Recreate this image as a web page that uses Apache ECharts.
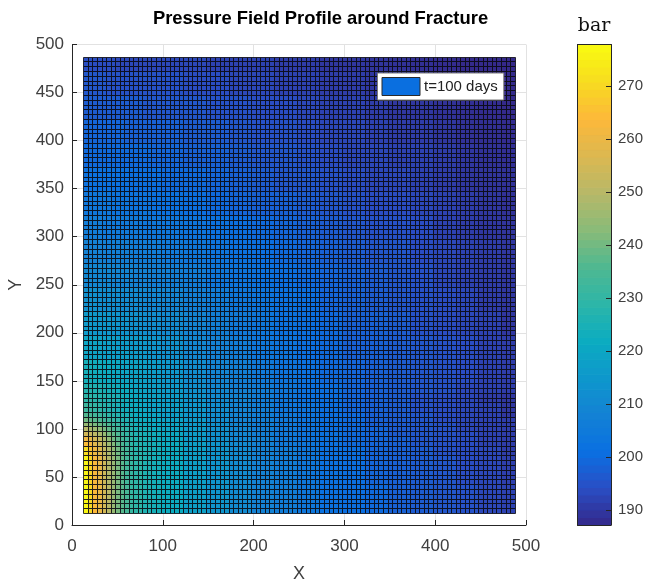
<!DOCTYPE html>
<html>
<head>
<meta charset="utf-8">
<script src="https://cdn.jsdelivr.net/npm/echarts@6/dist/echarts.min.js"></script>
<style>html,body{margin:0;padding:0;background:#fff}#chart{width:654px;height:587px}</style>
</head>
<body>
<div id="chart"></div>
<script>
// cell centres, the grid is 95 x 95 with a 5 unit pitch
var cellCentres = [];
for (var c = 15; c <= 485; c += 5) cellCentres.push(c);

// pressure. each row/column covers the cells from
// its start up to the next start, finer around the hot corner
var colStarts = [15,20,25,30,35,40,45,50,55,60,65,70,80,90,100,125,150,175,200,225,250,275,300,325,350,375,400,425,450,475];
var rowStarts = [15,45,75,85,90,95,100,105,110,115,120,130,140,150,175,200,225,250,275,300,325,350,375,400,425,450,475];
var pressure = [
  [277,270,264,260,255,250,245,241,237,234,231,229,226,224,222,218,214,211,208,206,204,202,201,200,198,197,196,195,193,192],
  [276,269,263,259,254,249,245,241,237,233,231,229,226,224,222,218,214,211,208,206,204,202,201,199,198,197,196,194,193,191.5],
  [271,266,261,257,252,248,244,240,236,233,230,228,226,224,222,218,214,211,208,206,204,202,201,199,198,197,195,194,193,191],
  [265,262,258,254,250,246,242,238,235,232,229,227,225,224,222,218,214,211,208,205,204,202,200,199,198,196,195,194,192,191],
  [261,259,255,252,248,244,240,237,234,231,229,227,225,223,221,217,213,210,208,205,203,202,200,199,198,196,195,194,192,191],
  [255,253,251,248,245,241,238,235,232,230,228,226,224,223,221,217,213,210,207,205,203,202,200,199,197,196,195,194,192,191],
  [250,248,246,244,241,238,235,233,231,229,227,225,224,222,220,217,213,210,207,205,203,201,200,199,197,196,195,193,192,191],
  [245,243,241,239,237,235,232,231,229,227,226,224,223,221,220,216,213,210,207,205,203,201,200,198,197,196,195,193,192,191],
  [240,238,237,235,233,232,230,229,227,226,225,223,222,221,219,216,212,209,207,205,203,201,200,198,197,196,194,193,192,191],
  [236,235,233,232,231,229,228,227,226,225,224,222,221,220,218,215,212,209,207,205,203,201,200,198,197,196,194,193,192,190],
  [232,231,230,229,228,227,226,225,224,223,223,222,220,219,218,215,212,209,207,204,203,201,199,198,197,195,194,193,192,190],
  [229,229,228,227,227,226,226,225,224,223,222,221,220,219,217,214,211,209,206,204,202,201,199,198,197,195,194,193,191,190],
  [227,227,226,226,225,224,224,223,222,222,221,220,219,218,216,213,210,208,206,204,202,201,199,198,197,196,195,193,192,191],
  [224,224,223,223,222,222,221,221,220,220,219,219,218,217,215,212,209,207,205,203,202,200,199,198,197,196,195,194,192,191],
  [220,219,219,219,218,218,218,217,217,217,216,216,215,214,213,210,208,206,204,203,201,200,198,198,197,196,195,194,192,191],
  [216,216,215,215,215,215,214,214,214,214,213,213,212,212,211,209,207,205,204,202,201,200,198,198,197,195,194,193,192,190],
  [213,213,213,212,212,212,212,212,211,211,211,211,210,210,209,207,206,204,203,202,201,199,198,197,196,195,194,193,191,190],
  [210,210,210,210,210,210,209,209,209,209,209,208,208,207,207,206,204,203,202,201,200,199,198,197,196,195,193,192,191,190],
  [208,208,208,208,208,207,207,207,207,207,207,206,206,206,205,204,203,202,201,200,199,198,197,196,196,194,193,192,191,190],
  [206,206,206,206,205,205,205,205,205,205,205,205,204,204,204,203,202,201,200,199,198,197,196,195,195,194,192,191,190,189.5],
  [204,204,204,204,204,204,203,203,203,203,203,203,203,202,202,201,200,199,198,198,197,196,195,194,194,193,192,191,190,189],
  [202,202,202,202,202,202,202,202,202,202,201,201,201,201,200,200,199,198,197,196,196,195,194,193,193,192,191,190,189.5,189],
  [200,200,200,200,200,200,200,200,200,200,200,200,200,199,199,198,198,197,196,196,195,194,193,193,192,192,191,190,189,188.5],
  [199,199,199,199,199,199,199,199,199,198,198,198,198,198,198,197,197,196,195,195,194,193,193,192,191,191,190,189,188.5,188],
  [197,197,197,197,197,197,197,197,197,197,197,197,196,196,196,196,195,195,194,194,193,192,192,191,190,190,189,188.5,188,187.5],
  [196,196,196,196,196,195,195,195,195,195,195,195,195,195,195,194,194,193,193,192,192,191,191,190,190,189,188.5,188,187.5,187.5],
  [194,194,194,194,194,194,194,193,193,193,193,193,193,193,193,193,192,192,192,191,191,190,190,189.5,189,188.5,188,187.5,187.5,187.2]
];

var xTicks = 100, yTicks = 50;
var cbarTicks = [190,200,210,220,230,240,250,260,270];
var cbarMin = 187.2, cbarMax = 277.9;
var parula = ['#34288a','#2a4ec4','#0a70e2','#1482d4','#0e98cc','#0cacc0','#2db6a8','#50b890','#8abb78','#b8b868','#dcb850','#fdb83a','#f7dc20','#f9fb10'];

function findGroup(starts, v) {
  var k = 0;
  while (k < starts.length - 1 && v >= starts[k + 1]) k++;
  return k;
}

var cells = [];
for (var i = 0; i < cellCentres.length; i++) {
  for (var j = 0; j < cellCentres.length; j++) {
    cells.push([cellCentres[i], cellCentres[j],
      pressure[findGroup(rowStarts, cellCentres[j])][findGroup(colStarts, cellCentres[i])]]);
  }
}

// colorbar, 64 colour bands like the original
var bands = [], bandStep = (cbarMax - cbarMin) / 64;
for (var b = 0; b < 64; b++) bands.push([0, cbarMin + b * bandStep, cbarMin + (b + 0.5) * bandStep]);

var myChart = echarts.init(document.getElementById('chart'));
var font = '"Liberation Sans", Arial, sans-serif';

// keep cell edges on whole pixels so the black lines stay sharp
function snap(v) {
  return Math.round(v) + 0.5;
}

var option = {
  animation: false,
  backgroundColor: '#fff',
  title: [
    { text: 'Pressure Field Profile around Fracture', left: 315.5, top: 5, textAlign: 'center',
      textStyle: { fontFamily: font, fontSize: 18.4, fontWeight: 'bold', color: '#000' } },
    { text: 'bar', left: 589, top: 12, textAlign: 'center',
      textStyle: { fontFamily: '"DejaVu Serif", serif', fontSize: 19, fontWeight: 'normal', color: '#111' } }
  ],
  grid: [
    { left: 72, top: 44.5, width: 454, height: 480.5, outerBoundsMode: 'none' },
    { left: 577.5, top: 44.5, width: 33.5, height: 480.5, outerBoundsMode: 'none' }
  ],
  legend: {
    left: 377.5, top: 73, padding: [4, 6, 4, 4], itemWidth: 38, itemHeight: 18, itemGap: 0,
    backgroundColor: '#fff', borderColor: '#7a7a7a', borderWidth: 1, borderRadius: 0,
    data: [{ name: 't=100 days', icon: 'rect', itemStyle: { color: '#0a6fe0', borderColor: '#2a2a2a', borderWidth: 1 } }],
    textStyle: { fontFamily: font, fontSize: 15, color: '#222', padding: [0, 0, 0, -1] }
  },
  visualMap: {
    show: false, min: cbarMin, max: cbarMax, dimension: 2, seriesIndex: [0, 1],
    inRange: { color: parula }
  },
  xAxis: [
    { gridIndex: 0, type: 'value', min: 0, max: 500, interval: xTicks,
      name: 'X', nameLocation: 'middle', nameGap: 40,
      nameTextStyle: { fontFamily: font, fontSize: 18, color: '#404040' },
      axisLine: { onZero: false, lineStyle: { color: '#262626', width: 1 } },
      axisTick: { inside: true, length: 5, lineStyle: { color: '#262626' } },
      axisLabel: { fontFamily: font, fontSize: 17, color: '#404040', margin: 13, showMinLabel: true, showMaxLabel: true },
      splitLine: { show: true, lineStyle: { color: '#e2e2e2', width: 1 } } },
    { gridIndex: 1, type: 'value', min: 0, max: 1, z: 10, axisLabel: { show: false }, axisTick: { show: false },
      splitLine: { show: false }, axisLine: { onZero: false, lineStyle: { color: '#262626' } } },
    { gridIndex: 1, type: 'value', position: 'top', min: 0, max: 1, z: 10, axisLabel: { show: false }, axisTick: { show: false },
      splitLine: { show: false }, axisLine: { onZero: false, lineStyle: { color: '#262626' } } }
  ],
  yAxis: [
    { gridIndex: 0, type: 'value', min: 0, max: 500, interval: yTicks,
      name: 'Y', nameLocation: 'middle', nameGap: 43,
      nameTextStyle: { fontFamily: font, fontSize: 18, color: '#404040' },
      axisLine: { onZero: false, lineStyle: { color: '#262626', width: 1 } },
      axisTick: { inside: true, length: 5, lineStyle: { color: '#262626' } },
      axisLabel: { fontFamily: font, fontSize: 17, color: '#404040', margin: 8, showMinLabel: true, showMaxLabel: true },
      splitLine: { show: true, lineStyle: { color: '#e2e2e2', width: 1 } } },
    { gridIndex: 1, type: 'value', position: 'right', min: cbarMin, max: cbarMax, z: 10,
      axisLine: { onZero: false, lineStyle: { color: '#262626' } },
      axisTick: { inside: true, length: 5, customValues: cbarTicks, lineStyle: { color: '#262626' } },
      axisLabel: { fontFamily: font, fontSize: 15, color: '#404040', margin: 7, customValues: cbarTicks },
      splitLine: { show: false } },
    { gridIndex: 1, type: 'value', position: 'left', min: cbarMin, max: cbarMax, z: 10,
      axisLine: { onZero: false, lineStyle: { color: '#262626' } },
      axisLabel: { show: false }, axisTick: { show: false }, splitLine: { show: false } }
  ],
  series: [
    { name: 't=100 days', type: 'custom', xAxisIndex: 0, yAxisIndex: 0, coordinateSystem: 'cartesian2d',
      progressive: 0, silent: true, encode: { x: 0, y: 1 }, data: cells,
      renderItem: function (params, api) {
        var p0 = api.coord([api.value(0) - 2.5, api.value(1) + 2.5]);
        var p1 = api.coord([api.value(0) + 2.5, api.value(1) - 2.5]);
        var x0 = snap(p0[0]), y0 = snap(p0[1]);
        return { type: 'rect', shape: { x: x0, y: y0, width: snap(p1[0]) - x0, height: snap(p1[1]) - y0 },
          style: { fill: api.visual('color'), stroke: 'rgba(8,8,16,0.82)', lineWidth: 1 } };
      } },
    { type: 'custom', xAxisIndex: 1, yAxisIndex: 1, coordinateSystem: 'cartesian2d',
      progressive: 0, silent: true, encode: { x: 0, y: 1 }, data: bands,
      renderItem: function (params, api) {
        var p0 = api.coord([0, api.value(1) + bandStep]);
        var p1 = api.coord([1, api.value(1)]);
        return { type: 'rect', shape: { x: p0[0], y: p0[1], width: p1[0] - p0[0], height: p1[1] - p0[1] },
          style: { fill: api.visual('color'), stroke: api.visual('color'), lineWidth: 1 } };
      } }
  ]
};

if (option && typeof option === "object") {
  myChart.setOption(option, true);
}
</script>
</body>
</html>
